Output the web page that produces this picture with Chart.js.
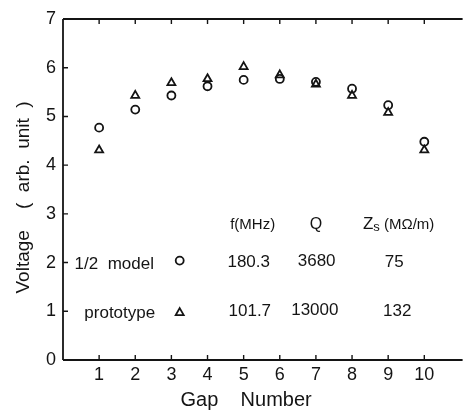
<!DOCTYPE html>
<html>
<head>
<meta charset="utf-8">
<script src="https://cdn.jsdelivr.net/npm/chart.js@4/dist/chart.umd.min.js"></script>
<style>
html, body { margin: 0; padding: 0; background: #fff; }
canvas { display: block; }
</style>
</head>
<body>
<canvas id="chart" width="469" height="410"></canvas>
<script>
var gaps = [1, 2, 3, 4, 5, 6, 7, 8, 9, 10];
var modelVoltage = [4.77, 5.14, 5.43, 5.62, 5.75, 5.77, 5.71, 5.57, 5.23, 4.48];
var protoVoltage = [4.31, 5.43, 5.69, 5.77, 6.02, 5.85, 5.66, 5.43, 5.08, 4.31];

// little table printed inside the plot
var seriesNames = ['1/2  model', 'prototype'];
var freqMHz = ['180.3', '101.7'];
var qValues = ['3680', '13000'];
var zsValues = ['75', '132'];

var ink = '#141414';
var fam = "'Liberation Sans', Arial, sans-serif";

function pts(vals) {
	return gaps.map(function(g, i) { return {x: g, y: vals[i]}; });
}

function circle(ctx, x, y, r) {
	ctx.beginPath();
	ctx.arc(x, y, r, 0, Math.PI * 2);
	ctx.stroke();
}
function triangle(ctx, x, y, r) {
	ctx.beginPath();
	for (let k = 0; k < 3; k++) {
		let a = k * Math.PI * 2 / 3;
		let px = x + Math.sin(a) * r, py = y - Math.cos(a) * r;
		if (k == 0) ctx.moveTo(px, py); else ctx.lineTo(px, py);
	}
	ctx.closePath();
	ctx.stroke();
}

// frame with inward ticks + the parameter table
var frame = {
	id: 'frame',
	afterDraw: function(chart) {
		var ctx = chart.ctx, a = chart.chartArea;
		var xs = chart.scales.x, ys = chart.scales.y;
		ctx.save();
		ctx.strokeStyle = ink;
		ctx.lineWidth = 1.8;
		ctx.beginPath();
		ctx.moveTo(a.left, a.top); ctx.lineTo(a.right, a.top);
		ctx.moveTo(a.left, a.top); ctx.lineTo(a.left, a.bottom);
		ctx.moveTo(a.left, a.bottom); ctx.lineTo(a.right, a.bottom);
		ctx.stroke();
		ctx.lineWidth = 1.4;
		ctx.beginPath();
		xs.ticks.forEach(function(t) {
			let px = xs.getPixelForValue(t.value);
			ctx.moveTo(px, a.bottom); ctx.lineTo(px, a.bottom - 5);
			ctx.moveTo(px, a.top); ctx.lineTo(px, a.top + 5);
		});
		ys.ticks.forEach(function(t) {
			let py = ys.getPixelForValue(t.value);
			ctx.moveTo(a.left, py); ctx.lineTo(a.left + 5, py);
		});
		ctx.stroke();

		var X = function(v) { return xs.getPixelForValue(v); };
		var Y = function(v) { return ys.getPixelForValue(v); };
		ctx.fillStyle = ink;
		ctx.textBaseline = 'middle';

		// header
		ctx.font = '15px ' + fam;
		ctx.textAlign = 'center';
		ctx.fillText('f(MHz)', X(5.25), Y(2.78));
		ctx.font = '16px ' + fam;
		ctx.fillText('Q', X(7.0), Y(2.78));
		ctx.textAlign = 'left';
		let zx = X(8.3);
		ctx.font = '17px ' + fam;
		ctx.fillText('Z', zx, Y(2.78));
		zx += ctx.measureText('Z').width;
		ctx.font = '13px ' + fam;
		ctx.fillText('s', zx, Y(2.78) + 3);
		zx += ctx.measureText('s').width;
		ctx.font = '15px ' + fam;
		ctx.fillText(' (M\u03A9/m)', zx, Y(2.78));

		// rows
		var rowY = [2.0, 1.0];
		var labelX = [0.32, 0.59];
		var colX = [[5.14, 7.02, 9.17], [5.17, 6.97, 9.25]];
		ctx.font = '17px ' + fam;
		for (let i = 0; i < 2; i++) {
			let y = Y(rowY[i]);
			ctx.textAlign = 'left';
			ctx.fillText(seriesNames[i], X(labelX[i]), y + 2);
			ctx.textAlign = 'center';
			ctx.fillText(freqMHz[i], X(colX[i][0]), y);
			ctx.fillText(qValues[i], X(colX[i][1]), y - 1);
			ctx.fillText(zsValues[i], X(colX[i][2]), y);
		}
		ctx.lineWidth = 1.8;
		circle(ctx, X(3.23), Y(2.04), 4);
		triangle(ctx, X(3.23), Y(0.97), 4.6);
		ctx.restore();
	}
};

var ctx = document.getElementById('chart').getContext('2d');
var chart = new Chart(ctx, {
	type: 'scatter',
	data: {
		datasets: [{
			label: seriesNames[0],
			data: pts(modelVoltage),
			pointStyle: 'circle',
			pointRadius: 4,
			pointBorderWidth: 1.8,
			borderColor: ink,
			backgroundColor: 'rgba(0,0,0,0)'
		}, {
			label: seriesNames[1],
			data: pts(protoVoltage),
			pointStyle: 'triangle',
			pointRadius: 4.6,
			pointBorderWidth: 1.8,
			borderColor: ink,
			backgroundColor: 'rgba(0,0,0,0)'
		}]
	},
	options: {
		responsive: false,
		animation: false,
		devicePixelRatio: 1,
		layout: { padding: { top: 19, right: 0, left: 0, bottom: 0 } },
		plugins: { legend: { display: false }, tooltip: { enabled: false } },
		scales: {
			x: {
				type: 'linear',
				min: 0,
				max: 11.06,
				grid: { display: false, drawTicks: false },
				border: { display: false },
				ticks: { stepSize: 1, color: ink, font: { family: fam, size: 18 }, padding: 4, maxRotation: 0, autoSkip: false },
				afterBuildTicks: function(s) {
					s.ticks = s.ticks.filter(function(t) { return t.value >= 1 && t.value <= 10; });
				},
				afterFit: function(s) { s.height = 50; },
				title: { display: true, text: 'Gap    Number      ', color: ink, font: { family: fam, size: 20, lineHeight: 1 }, padding: 0 }
			},
			y: {
				min: 0,
				max: 7,
				grid: { display: false, drawTicks: false },
				border: { display: false },
				ticks: { stepSize: 1, color: ink, font: { family: fam, size: 18 }, padding: 7 },
				afterFit: function(s) { s.width = 63; },
				title: { display: true, text: 'Voltage    (  arb.  unit  )   ', color: ink, font: { family: fam, size: 19, lineHeight: 1 }, padding: { top: 14, bottom: 0 } }
			}
		}
	},
	plugins: [frame]
});
</script>
</body>
</html>
